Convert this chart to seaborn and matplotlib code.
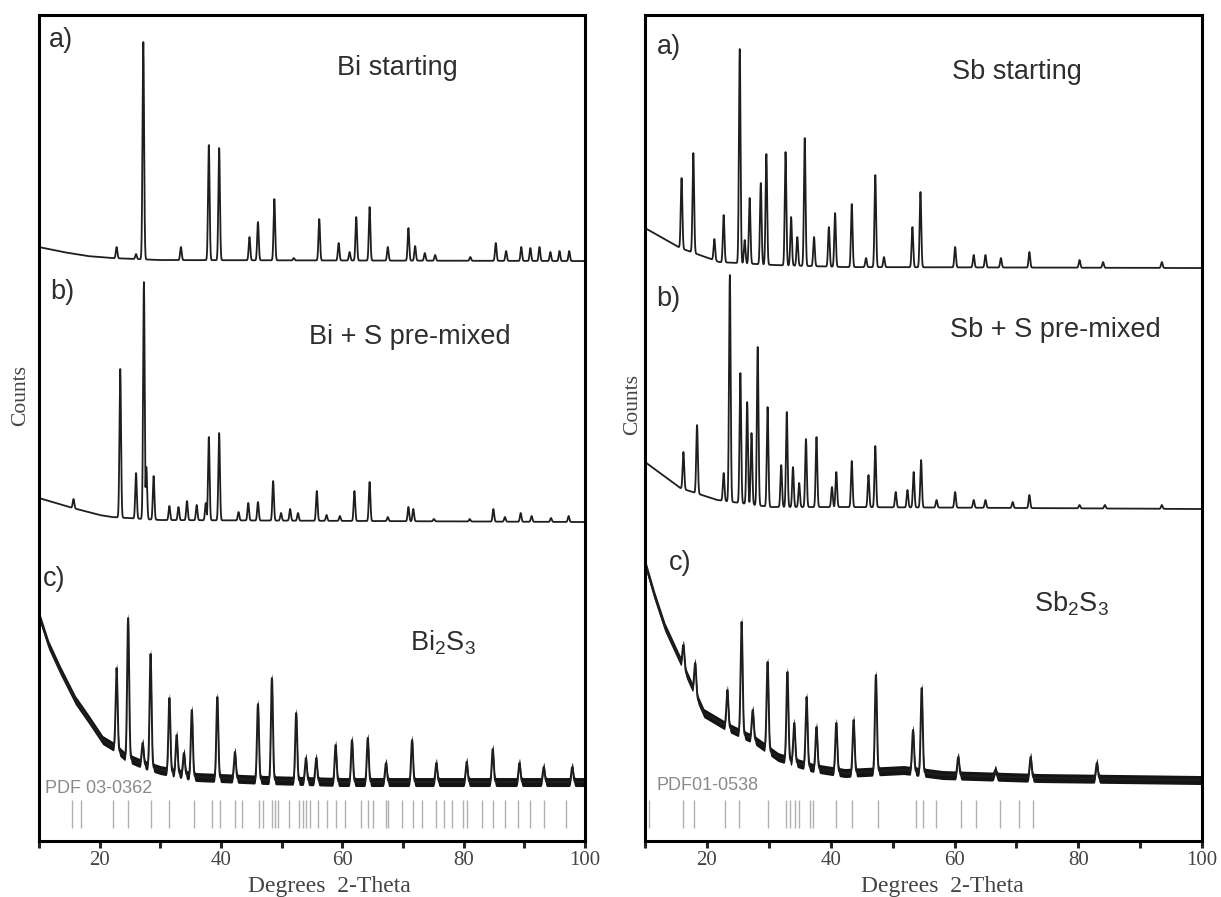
import numpy as np
import pandas as pd
import matplotlib
matplotlib.use("Agg")
import matplotlib.pyplot as plt
import seaborn as sns

# XRD traces: counts are arbitrary units, stacking offsets included.
# Each trace = background points + peak apex positions/levels.

# --- Bi panel ---
bi_a_bg_2theta = [10, 14, 18, 22, 30, 100]
bi_a_bg_counts = [594, 589, 585, 583, 581, 580]
bi_a_peak_2theta = [22.8, 26.0, 27.2, 33.4, 38.0, 39.7, 44.7, 46.1, 48.8, 52.0, 56.2, 59.4,
                    61.2, 62.3, 64.5, 67.5, 70.9, 72.0, 73.6, 75.3, 81.1, 85.3, 87.0, 89.5,
                    91.0, 92.5, 94.3, 95.8, 97.4]
bi_a_peak_counts = [594, 587, 799, 594, 696, 693, 604, 619, 642, 583, 622, 598,
                    589, 624, 634, 594, 613, 595, 588, 586, 584, 598, 590, 594,
                    593, 594, 589, 590, 590]

bi_b_bg_2theta = [10, 15, 20, 22, 30, 100]
bi_b_bg_counts = [343, 334, 326, 324, 321, 319]
bi_b_peak_2theta = [15.7, 23.4, 26.0, 27.3, 27.7, 28.9, 31.5, 33.0, 34.4, 36.0, 37.5, 38.0,
                    39.7, 42.9, 44.5, 46.1, 48.6, 49.9, 51.4, 52.7, 55.8, 57.4, 59.6, 62.0,
                    64.5, 67.5, 70.9, 71.7, 75.1, 81.0, 84.9, 86.8, 89.4, 91.2, 94.4, 97.3]
bi_b_peak_counts = [342, 472, 368, 559, 374, 365, 335, 334, 340, 336, 338, 404,
                    408, 329, 338, 339, 360, 328, 332, 328, 350, 326, 325, 350,
                    359, 324, 334, 332, 322, 322, 332, 324, 328, 325, 323, 325]

bi_c_bg_2theta = [10, 11.6, 13.5, 16, 18.3, 20.5, 22.4, 24.3, 27, 30, 36, 47.6, 60, 100]
bi_c_bg_counts = [226, 196, 171, 141, 121, 101, 94, 84, 77, 71, 64, 61, 59, 59]
bi_c_peak_2theta = [22.8, 24.7, 27.1, 28.4, 31.5, 32.7, 33.9, 35.2, 39.4, 42.3, 46.1, 48.4,
                    52.4, 54.0, 55.7, 58.9, 61.6, 64.2, 67.2, 71.5, 75.5, 80.5, 84.8, 89.2,
                    93.2, 97.9]
bi_c_peak_counts = [173, 223, 98, 187, 143, 106, 88, 131, 144, 89, 137, 163,
                    128, 83, 83, 96, 101, 103, 78, 101, 78, 79, 92, 78,
                    74, 74]

bi_pdf_2theta = [15.4, 17.0, 22.2, 24.6, 28.5, 31.4, 35.6, 38.5, 39.8, 42.3, 43.5, 46.3,
                 47.0, 48.4, 48.9, 49.4, 51.2, 52.8, 53.5, 54.0, 54.6, 56.0, 57.4, 59.0,
                 60.5, 63.0, 64.2, 65.0, 67.2, 67.6, 69.8, 71.7, 73.2, 75.5, 76.7, 78.0,
                 79.9, 80.5, 83.0, 84.9, 86.8, 89.0, 90.9, 93.2, 96.9]

# --- Sb panel ---
sb_a_bg_2theta = [10, 15.7, 22, 30.9, 42.3, 100]
sb_a_bg_counts = [613, 593, 579, 576, 574, 573]
sb_a_peak_2theta = [15.9, 17.8, 21.2, 22.7, 25.3, 26.1, 26.9, 28.7, 29.6, 32.7, 33.6, 34.6,
                    35.8, 37.3, 39.7, 40.7, 43.4, 45.7, 47.2, 48.6, 53.2, 54.5, 60.1, 63.1,
                    65.0, 67.5, 72.1, 80.2, 84.0, 93.5]
sb_a_peak_counts = [663, 688, 602, 626, 792, 601, 643, 658, 687, 689, 624, 604,
                    703, 604, 614, 628, 637, 583, 666, 584, 614, 649, 594, 586,
                    586, 583, 589, 581, 579, 579]

sb_b_bg_2theta = [10, 15.7, 21.7, 30.3, 42.3, 100]
sb_b_bg_counts = [379, 353, 341, 334, 334, 332]
sb_b_peak_2theta = [16.2, 18.4, 22.7, 23.7, 25.4, 26.5, 27.2, 28.2, 29.8, 32.0, 32.9, 33.9,
                    34.9, 36.0, 37.7, 40.2, 40.9, 43.4, 46.1, 47.2, 50.5, 52.4, 53.4, 54.6,
                    57.1, 60.1, 63.1, 65.0, 69.4, 72.1, 80.2, 84.3, 93.5]
sb_b_peak_counts = [389, 416, 368, 566, 468, 439, 408, 494, 434, 376, 429, 374,
                    358, 402, 404, 354, 369, 380, 366, 395, 349, 351, 369, 381,
                    341, 349, 341, 341, 339, 346, 336, 336, 336]

sb_c_bg_2theta = [10, 11.5, 13.2, 16.4, 19.5, 23.3, 27.7, 31.5, 37.2, 42.3, 51.8, 58.1, 73.9, 100]
sb_c_bg_counts = [278, 246, 214, 171, 128, 114, 101, 84, 73, 68, 71, 66, 63, 61]
sb_c_peak_2theta = [16.2, 18.1, 23.3, 25.6, 27.4, 29.8, 33.0, 34.1, 36.1, 37.7, 40.9, 43.7,
                    47.3, 53.3, 54.7, 60.6, 66.6, 72.3, 83.0]
sb_c_peak_counts = [196, 178, 151, 219, 131, 179, 169, 118, 144, 114, 118, 121,
                    166, 111, 153, 84, 71, 84, 78]

sb_pdf_2theta = [10.7, 16.2, 17.9, 22.9, 25.2, 29.8, 32.8, 33.5, 34.2, 34.9, 36.6, 37.2,
                 40.9, 43.5, 47.6, 53.8, 54.9, 57.0, 61.0, 63.4, 67.4, 70.4, 72.7]


def trace(bg_x, bg_y, pk_x, pk_y, sigma):
    tt = np.arange(10, 100.0001, 0.02)
    base = np.interp(tt, bg_x, bg_y)
    amp = np.array(pk_y) - np.interp(pk_x, bg_x, bg_y)
    shapes = amp[:, None] * np.exp(-0.5 * ((tt[None, :] - np.array(pk_x)[:, None]) / sigma) ** 2)
    return pd.DataFrame({"two_theta": tt, "counts": base + shapes.max(axis=0)})


sns.set_style("white")
plt.rcParams["font.family"] = ["Liberation Sans", "DejaVu Sans"]
plt.rcParams["mathtext.fontset"] = "custom"
plt.rcParams["mathtext.rm"] = "Liberation Sans"
plt.rcParams["mathtext.it"] = "Liberation Sans"

fig = plt.figure(figsize=(12.21, 8.97), dpi=100)
ax_bi = fig.add_axes([0.0319, 0.0624, 0.4472, 0.9208])
ax_sb = fig.add_axes([0.5283, 0.0624, 0.4562, 0.9208])

# (bg x, bg y, peak x, peak y, peak sigma, line width, noise ribbon half-width)
panels = [
    (ax_bi, [
        (bi_a_bg_2theta, bi_a_bg_counts, bi_a_peak_2theta, bi_a_peak_counts, 0.13, 1.3, 0),
        (bi_b_bg_2theta, bi_b_bg_counts, bi_b_peak_2theta, bi_b_peak_counts, 0.13, 1.3, 0),
        (bi_c_bg_2theta, bi_c_bg_counts, bi_c_peak_2theta, bi_c_peak_counts, 0.16, 1.4, 4.5),
    ], bi_pdf_2theta),
    (ax_sb, [
        (sb_a_bg_2theta, sb_a_bg_counts, sb_a_peak_2theta, sb_a_peak_counts, 0.13, 1.3, 0),
        (sb_b_bg_2theta, sb_b_bg_counts, sb_b_peak_2theta, sb_b_peak_counts, 0.13, 1.3, 0),
        (sb_c_bg_2theta, sb_c_bg_counts, sb_c_peak_2theta, sb_c_peak_counts, 0.16, 1.4, 4.5),
    ], sb_pdf_2theta),
]

for ax, traces, pdf in panels:
    for bg_x, bg_y, pk_x, pk_y, sig, lw, band in traces:
        df = trace(bg_x, bg_y, pk_x, pk_y, sig)
        sns.lineplot(data=df, x="two_theta", y="counts", ax=ax, estimator=None,
                     color="#1e1e1e", lw=lw)
        if band:
            ax.fill_between(df["two_theta"], df["counts"] - band, df["counts"] + band,
                            color="#141414", lw=0)
    ax.vlines(pdf, 13, 41, color="#b0b0b0", lw=1.0)
    ax.set_xlim(10, 100)
    ax.set_ylim(0, 826)
    ax.set_xticks([20, 40, 60, 80, 100])
    ax.set_xticks([10, 30, 50, 70, 90], minor=True)
    ax.set_yticks([])
    ax.tick_params(axis="x", which="both", direction="out", length=5, width=2.2,
                   bottom=True, pad=2, labelsize=15, labelcolor="#444444")
    for lab in ax.get_xticklabels():
        lab.set_family("Liberation Serif")
    for sp in ax.spines.values():
        sp.set_linewidth(2.2)
        sp.set_color("black")
    ax.set_xlabel("Degrees  2-Theta", family="Liberation Serif", fontsize=17, color="#444444")
    ax.set_ylabel("Counts", family="Liberation Serif", fontsize=15.5, color="#444444")

ax_bi.xaxis.set_label_coords(0.531, -0.042)
ax_sb.xaxis.set_label_coords(0.533, -0.042)
ax_bi.yaxis.set_label_coords(-0.017, 0.539)
ax_sb.yaxis.set_label_coords(-0.006, 0.528)

txt = dict(fontsize=19.5, color="#2e2e2e", ha="left", va="center")
ax_bi.text(0.018, 0.970, "a)", transform=ax_bi.transAxes, **txt)
ax_bi.text(0.546, 0.936, "Bi starting", transform=ax_bi.transAxes, **txt)
ax_bi.text(0.020, 0.665, "b)", transform=ax_bi.transAxes, **txt)
ax_bi.text(0.495, 0.610, "Bi + S pre-mixed", transform=ax_bi.transAxes, **txt)
ax_bi.text(0.007, 0.317, "c)", transform=ax_bi.transAxes, **txt)
ax_bi.text(0.679, 0.240, "Bi$_{2}$S$_{3}$", transform=ax_bi.transAxes, **txt)
ax_bi.text(0.011, 0.064, "PDF 03-0362", transform=ax_bi.transAxes, fontsize=13,
           color="#8a8a8a", ha="left", va="center")

ax_sb.text(0.022, 0.961, "a)", transform=ax_sb.transAxes, **txt)
ax_sb.text(0.551, 0.931, "Sb starting", transform=ax_sb.transAxes, **txt)
ax_sb.text(0.020, 0.656, "b)", transform=ax_sb.transAxes, **txt)
ax_sb.text(0.548, 0.619, "Sb + S pre-mixed", transform=ax_sb.transAxes, **txt)
ax_sb.text(0.043, 0.337, "c)", transform=ax_sb.transAxes, **txt)
ax_sb.text(0.698, 0.287, "Sb$_{2}$S$_{3}$", transform=ax_sb.transAxes, **txt)
ax_sb.text(0.020, 0.067, "PDF01-0538", transform=ax_sb.transAxes, fontsize=13,
           color="#8a8a8a", ha="left", va="center")

fig.savefig("out.png", dpi=100)
